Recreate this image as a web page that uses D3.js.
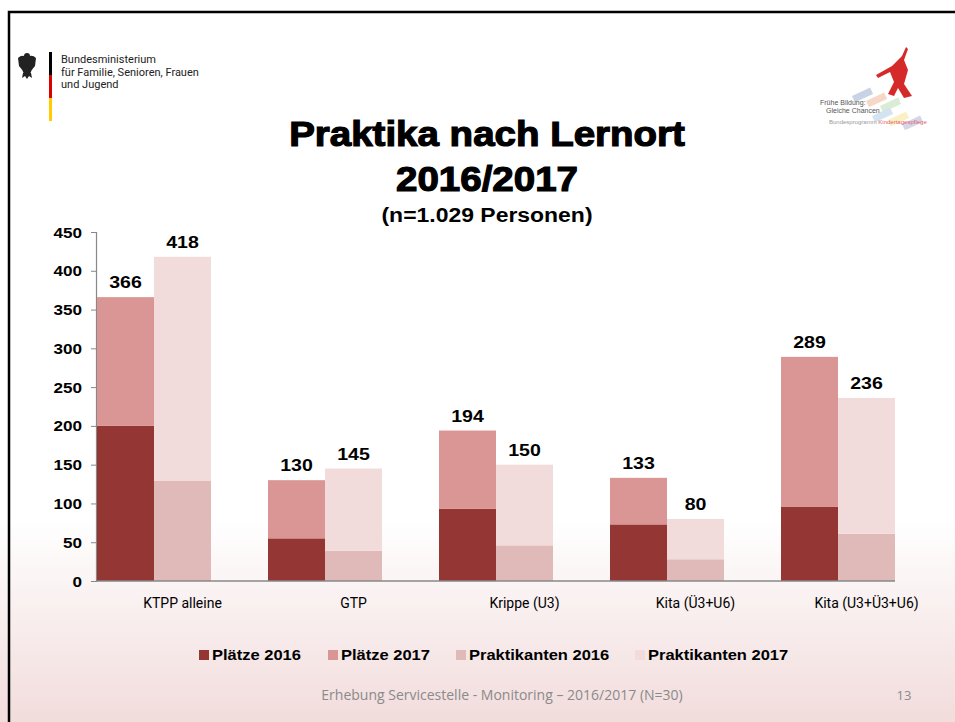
<!DOCTYPE html>
<html>
<head>
<meta charset="utf-8">
<script src="https://cdn.jsdelivr.net/npm/d3@7"></script>
<style>
  body { margin: 0; background: #fff; }
  svg { display: block; }
</style>
</head>
<body>
<svg id="chart" width="955" height="722"></svg>
<script>
// Daten
const categories = ["KTPP alleine", "GTP", "Krippe (U3)", "Kita (Ü3+U6)", "Kita (U3+Ü3+U6)"];
const plaetze2016 = [200, 55, 93, 73, 96];
const plaetze2017 = [166, 75, 101, 60, 193];
const praktikanten2016 = [129, 39, 46, 28, 61];
const praktikanten2017 = [289, 106, 104, 52, 175];
const yTicks = [0, 50, 100, 150, 200, 250, 300, 350, 400, 450];
const seriesNames = ["Plätze 2016", "Plätze 2017", "Praktikanten 2016", "Praktikanten 2017"];
const seriesColors = ["#943634", "#d99694", "#e0b9b9", "#f2dcdb"];

const svg = d3.select("#chart");
const ARIAL = "'Liberation Sans', Arial, sans-serif";

// Text mit horizontaler Streckung (die Folie hat breitere Schrift)
function wideText(parent, x, y, txt, size, sx, anchor) {
    return parent.append("text")
        .attr("transform", `translate(${x},${y}) scale(${sx},1)`)
        .attr("text-anchor", anchor || "middle")
        .attr("font-family", ARIAL).attr("font-weight", "bold")
        .attr("font-size", size).attr("fill", "#000")
        .text(txt);
}

// Hintergrund mit Verlauf
const defs = svg.append("defs");
const grad = defs.append("linearGradient")
    .attr("id", "bg").attr("x1", 0).attr("y1", 0).attr("x2", 0).attr("y2", 1);
grad.append("stop").attr("offset", "0%").attr("stop-color", "#ffffff");
grad.append("stop").attr("offset", "72%").attr("stop-color", "#ffffff");
grad.append("stop").attr("offset", "100%").attr("stop-color", "#f2dcdc");
svg.append("rect").attr("width", 955).attr("height", 722).attr("fill", "url(#bg)");

// Rahmen
svg.append("path")
    .attr("d", "M9,722 V12 H955")
    .attr("fill", "none").attr("stroke", "#000").attr("stroke-width", 2.5);

// Logo links
const logo = svg.append("g");
const eagle = logo.append("g").attr("fill", "#222");
eagle.append("path").attr("d", "M18,58 Q22,54 26,57 L28,57 Q32,54 36,58 L35,66 Q31,70 30,74 L24,74 Q23,70 19,66 Z");
eagle.append("circle").attr("cx", 27).attr("cy", 56).attr("r", 3);
eagle.append("path").attr("d", "M23,73 L22,78 L25,76 L27,79 L29,76 L32,78 L31,73 Z");
logo.append("rect").attr("x", 49).attr("y", 52).attr("width", 3).attr("height", 23).attr("fill", "#000");
logo.append("rect").attr("x", 49).attr("y", 75).attr("width", 3).attr("height", 23).attr("fill", "#d00");
logo.append("rect").attr("x", 49).attr("y", 98).attr("width", 3).attr("height", 23).attr("fill", "#fc0");
["Bundesministerium", "für Familie, Senioren, Frauen", "und Jugend"].forEach((t, i) => {
    logo.append("text").attr("x", 61).attr("y", 63 + i * 12.5)
        .attr("font-family", "'Liberation Sans Narrow', 'Roboto', sans-serif")
        .attr("font-size", 11).attr("fill", "#222").text(t);
});

// Logo rechts
const logo2 = svg.append("g");
const tiles = [[852, 96, "#c9d3e6"], [866, 101, "#f6d8c8"], [880, 106, "#d8ecd6"], [872, 116, "#d3e3f0"], [888, 120, "#fbf0c5"], [902, 124, "#d6d6ea"]];
tiles.forEach(t => {
    logo2.append("rect").attr("x", t[0]).attr("y", t[1]).attr("width", 20).attr("height", 7)
        .attr("fill", t[2]).attr("transform", `rotate(-25,${t[0]},${t[1]})`);
});
logo2.append("path")
    .attr("d", "M902,56 L906,47 L908,49 L904,60 L908,70 L904,84 L912,96 L904,98 L898,88 L894,96 L888,94 L894,82 L890,72 L878,78 L876,75 L892,66 Z")
    .attr("fill", "#d42a2a");
[["Frühe Bildung:", 820, 105], ["Gleiche Chancen", 826, 113]].forEach(t => {
    logo2.append("text").attr("x", t[1]).attr("y", t[2])
        .attr("font-family", "'Liberation Sans Narrow', sans-serif").attr("font-size", 7).attr("fill", "#555").text(t[0]);
});
logo2.append("text").attr("x", 829).attr("y", 124)
    .attr("font-family", "'Liberation Sans Narrow', sans-serif").attr("font-size", 6).attr("fill", "#999")
    .text("Bundesprogramm ").append("tspan").attr("fill", "#d66").text("Kindertagespflege");

// Titel
const title = svg.append("g");
wideText(title, 487, 146, "Praktika nach Lernort", 35, 1.1)
    .attr("stroke", "#000").attr("stroke-width", 1.2);
wideText(title, 487, 191, "2016/2017", 35, 1.1)
    .attr("stroke", "#000").attr("stroke-width", 1.2);
wideText(title, 487, 222, "(n=1.029 Personen)", 20.5, 1.12);

// Skalen
const x = d3.scaleBand().domain(categories).range([97, 952]).padding(0);
const barW = x.bandwidth() / 3;
const y = d3.scaleLinear().domain([0, 450]).range([581, 232]);

// y-Achse
const yAxis = svg.append("g").attr("transform", "translate(96,0)")
    .call(d3.axisLeft(y).tickValues(yTicks).tickSize(5).tickFormat(""));
yAxis.select(".domain").attr("stroke", "#888").attr("stroke-width", 1.2);
yAxis.selectAll(".tick line").attr("stroke", "#888");
yAxis.selectAll(".tick").each(function (d) {
    wideText(d3.select(this), -14, 5, d, 14.5, 1.18, "end");
});

// Balken
const stacks = [
    { offset: 0, parts: [plaetze2016, plaetze2017], colors: [seriesColors[0], seriesColors[1]] },
    { offset: 1, parts: [praktikanten2016, praktikanten2017], colors: [seriesColors[2], seriesColors[3]] }
];
const bars = svg.append("g");
stacks.forEach(s => {
    categories.forEach((c, i) => {
        const x0 = x(c) + s.offset * barW;
        const v0 = s.parts[0][i], v1 = s.parts[1][i];
        bars.append("rect").attr("x", x0).attr("width", barW)
            .attr("y", y(v0)).attr("height", y(0) - y(v0)).attr("fill", s.colors[0]);
        bars.append("rect").attr("x", x0).attr("width", barW)
            .attr("y", y(v0 + v1)).attr("height", y(v0) - y(v0 + v1)).attr("fill", s.colors[1]);
        wideText(bars, x0 + barW / 2, y(v0 + v1) - 9, v0 + v1, 17, 1.15);
    });
});

// x-Achse
svg.append("line").attr("x1", 96).attr("x2", x(categories[4]) + 2 * barW)
    .attr("y1", y(0)).attr("y2", y(0)).attr("stroke", "#888").attr("stroke-width", 1.5);
svg.append("g").selectAll("text").data(categories).join("text")
    .attr("x", d => x(d) + x.bandwidth() / 2).attr("y", 608)
    .attr("text-anchor", "middle")
    .attr("font-family", "'Liberation Sans Narrow', 'Roboto', sans-serif")
    .attr("font-size", 14).attr("fill", "#000")
    .text(d => d);

// Legende
const legendX = [199, 328, 456, 635];
const legend = svg.append("g");
seriesNames.forEach((n, i) => {
    legend.append("rect").attr("x", legendX[i]).attr("y", 650).attr("width", 10).attr("height", 10)
        .attr("fill", seriesColors[i]);
    wideText(legend, legendX[i] + 13, 660, n, 15, 1.1, "start");
});

// Fußzeile
svg.append("text").attr("x", 502).attr("y", 700).attr("text-anchor", "middle")
    .attr("font-family", "'Open Sans', sans-serif").attr("font-size", 14).attr("fill", "#8a8a8a")
    .text("Erhebung Servicestelle - Monitoring – 2016/2017 (N=30)");
svg.append("text").attr("x", 904).attr("y", 700).attr("text-anchor", "middle")
    .attr("font-family", "'Open Sans', sans-serif").attr("font-size", 13).attr("fill", "#8a8a8a")
    .text("13");
</script>
</body>
</html>
